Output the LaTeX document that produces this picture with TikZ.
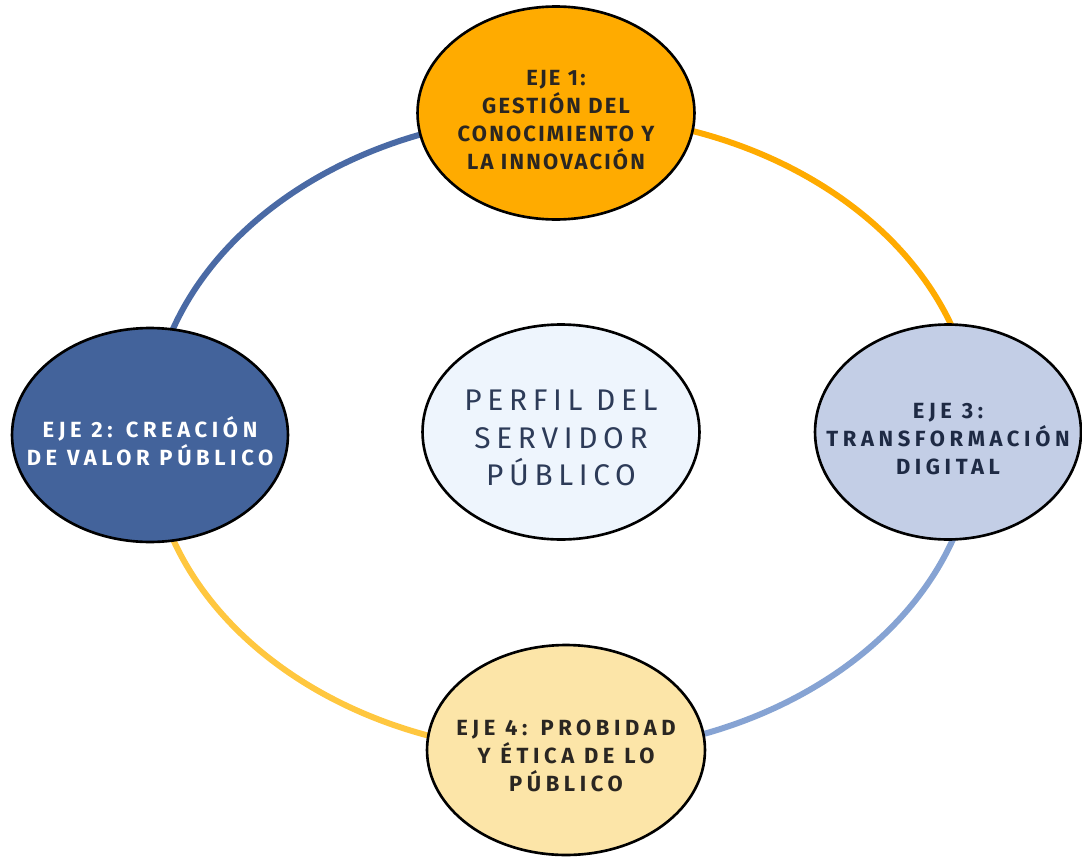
\documentclass[tikz,border=0pt]{standalone}
\usepackage{fontspec}
\usetikzlibrary{shapes.geometric}
\newfontfamily\ejefont[LetterSpace=10]{Fira Sans}
\newfontfamily\ejewidefont[LetterSpace=21]{Fira Sans}
\newfontfamily\perfilfont[LetterSpace=19]{Fira Sans}
\definecolor{ejeA}{HTML}{FFAB00}
\definecolor{ejeB}{HTML}{43639B}
\definecolor{ejeC}{HTML}{C3CEE6}
\definecolor{ejeD}{HTML}{FCE5A8}
\definecolor{perfil}{HTML}{EEF5FD}
\definecolor{arcNW}{HTML}{4A6AA5}
\definecolor{arcNE}{HTML}{FFAB00}
\definecolor{arcSW}{HTML}{FFC73F}
\definecolor{arcSE}{HTML}{86A3D3}
\definecolor{txtdark}{HTML}{2A2622}
\definecolor{txtnavy}{HTML}{1E2A44}
\definecolor{txtperfil}{HTML}{2D3B58}
\begin{document}
\begin{tikzpicture}[x=0.02cm,y=-0.02cm,
  axis/.style={ellipse, draw=black, line width=1.5pt, inner sep=0pt},
  axistext/.style={align=center, inner sep=0pt,
    font=\ejewidefont\bfseries\fontsize{12.5}{15.8}\selectfont},
  ring/.style={line width=0.12cm},
]
\useasboundingbox (0,0) rectangle (1082,859);

% ring through the four axes
\coordinate (ringtop) at (563,115);
\coordinate (ringleft) at (150,434);
\coordinate (ringright) at (976,434);
\draw[ring, draw=arcNW] (ringtop) arc[start angle=90, end angle=180, x radius=8.26cm, y radius=6.38cm];
\draw[ring, draw=arcNE] (ringtop) arc[start angle=90, end angle=0, x radius=8.26cm, y radius=6.38cm];
\draw[ring, draw=arcSW] (ringleft) arc[start angle=180, end angle=270, x radius=8.26cm, y radius=6.38cm];
\draw[ring, draw=arcSE] (ringright) arc[start angle=0, end angle=-90, x radius=8.26cm, y radius=6.38cm];

% axes
\node[axis, fill=ejeA, minimum width=5.54cm, minimum height=4.26cm] (eje1) at (556,113) {};
\node[axis, fill=ejeB, minimum width=5.52cm, minimum height=4.28cm] (eje2) at (150,435) {};
\node[axis, fill=ejeC, minimum width=5.32cm, minimum height=4.30cm] (eje3) at (948,432) {};
\node[axis, fill=ejeD, minimum width=5.56cm, minimum height=4.20cm] (eje4) at (566,750) {};
\node[axis, fill=perfil, minimum width=5.54cm, minimum height=4.30cm] (perfil) at (561,432) {};

% labels
\node[axistext, text=txtdark, font=\ejefont\bfseries\fontsize{12.5}{15.8}\selectfont]
  (t1) at ([yshift=-0.14cm]eje1.center)
  {EJE 1:\\GESTIÓN DEL\\CONOCIMIENTO Y\\LA INNOVACIÓN};
\node[axistext, text=white] (t2) at ([yshift=-0.12cm]eje2.center)
  {EJE 2: CREACIÓN\\DE VALOR PÚBLICO};
\node[axistext, text=txtnavy] (t3) at ([yshift=-0.14cm]eje3.center)
  {EJE 3:\\TRANSFORMACIÓN\\DIGITAL};
\node[axistext, text=txtdark] (t4) at ([yshift=-0.12cm]eje4.center)
  {EJE 4: PROBIDAD\\Y ÉTICA DE LO\\PÚBLICO};
\node[align=center, inner sep=0pt, text=txtperfil,
  font=\perfilfont\fontsize{17}{21.3}\selectfont] (t0) at ([yshift=-0.12cm]perfil.center)
  {PERFIL DEL\\SERVIDOR\\PÚBLICO};
\end{tikzpicture}
\end{document}
